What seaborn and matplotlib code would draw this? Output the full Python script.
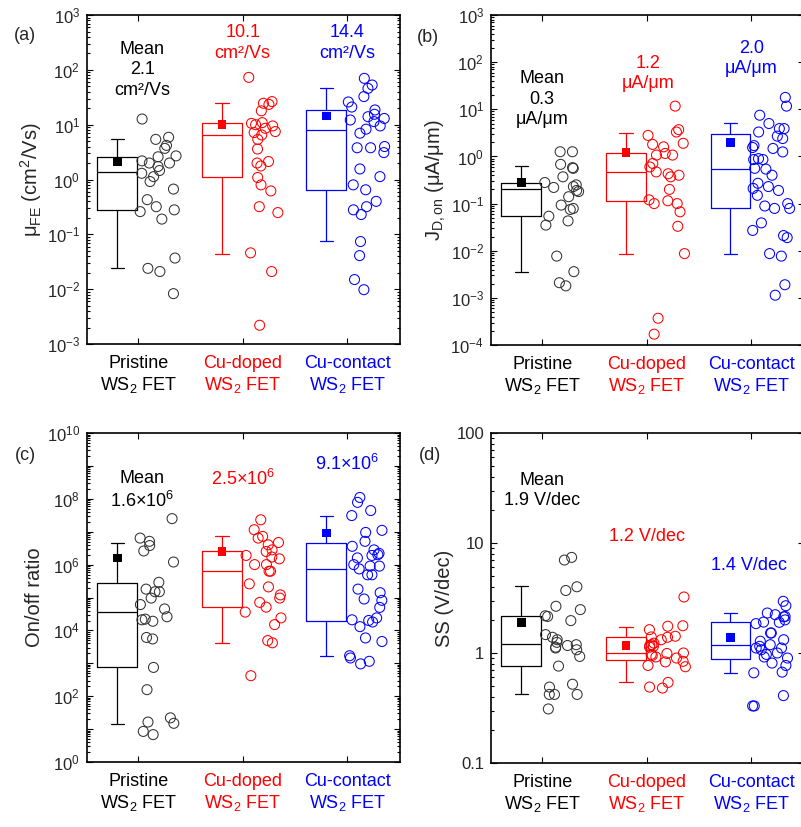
import numpy as np
import matplotlib
matplotlib.use('Agg')
import matplotlib.pyplot as plt
import matplotlib.ticker as mticker
import seaborn as sns

groups = ['Pristine', 'Cu-doped', 'Cu-contact']
colors = ['black', 'red', 'blue']
point_colors = ['#333333', 'red', 'blue']
tick_labels = ['Pristine\nWS$_\\mathregular{2}$ FET',
               'Cu-doped\nWS$_\\mathregular{2}$ FET',
               'Cu-contact\nWS$_\\mathregular{2}$ FET']

# (a) field-effect mobility, cm2/Vs
mu_pristine = [12.7, 5.9, 5.4, 4.2, 2.7, 1.46, 2.6, 2.19, 2.0, 1.73, 3.7, 2.0, 1.13, 1.3,
               0.92, 0.67, 0.43, 0.32, 0.28, 0.26, 0.19, 0.037, 0.024, 0.021, 0.0083]
mu_doped = [73, 24.6, 26.4, 23.5, 17.9, 10.6, 10.9, 5.4, 6.5, 3.6, 7.5, 9.5, 10, 8.6, 7.2,
            1.77, 2.0, 2.13, 1.09, 0.8, 0.62, 0.32, 0.25, 0.046, 0.021, 0.0022]
mu_contact = [70, 53, 46, 32.6, 26, 21, 18.6, 14, 15.5, 13, 11.4, 12.2, 7.0, 3.8, 3.8, 4.0,
              3.1, 9.5, 8.3, 1.13, 0.8, 1.56, 0.65, 0.4, 0.32, 0.28, 0.23, 0.074, 0.041,
              0.015, 0.0098]
# whisker low, q1, median, q3, whisker high
mu_box = [[0.0246, 0.28, 1.36, 2.62, 5.4],
          [0.044, 1.1, 6.6, 10.8, 24.6],
          [0.077, 0.65, 8.0, 18.6, 46]]
mu_mean = [2.1, 10.1, 14.4]
mu_text = ['Mean\n2.1\ncm²/Vs', '10.1\ncm²/Vs', '14.4\ncm²/Vs']

# (b) on-current density, uA/um
j_pristine = [1.26, 1.26, 0.56, 0.37, 0.68, 0.58, 0.19, 0.14, 0.23, 0.18, 0.28, 0.25, 0.22,
              0.093, 0.079, 0.075, 0.054, 0.043, 0.035, 0.0077, 0.0036, 0.0021, 0.0018]
j_doped = [11.7, 3.7, 3.3, 2.8, 1.6, 1.16, 0.6, 0.43, 0.37, 0.4, 1.9, 1.8, 1.07, 1.07, 0.71,
           0.47, 0.2, 0.1, 0.1, 0.067, 0.12, 0.115, 0.033, 0.0087, 0.00037, 0.00017]
j_contact = [17.9, 11.7, 7.5, 5.0, 3.9, 3.9, 3.3, 2.7, 2.4, 1.48, 0.9, 0.86, 0.86, 1.25, 1.7,
             1.55, 0.54, 0.56, 0.27, 0.21, 0.4, 0.19, 0.23, 0.15, 0.089, 0.079, 0.1, 0.079,
             0.039, 0.027, 0.021, 0.019, 0.0087, 0.0077, 0.0019, 0.00114]
j_box = [[0.0036, 0.054, 0.2, 0.276, 0.64],
         [0.0087, 0.115, 0.47, 1.2, 3.1],
         [0.0085, 0.079, 0.55, 3.0, 5.2]]
j_mean = [0.28, 1.2, 2.0]
j_text = ['Mean\n0.3\nμA/μm', '1.2\nμA/μm', '2.0\nμA/μm']

# (c) on/off ratio
onoff_pristine = [2.5e7, 6.4e6, 5.1e6, 3.8e6, 2.6e6, 1.2e6, 6.1e4, 4.5e4, 2.1e4, 1.9e4, 1.5e5,
                  1.8e5, 2.9e5, 1.5e5, 9.6e4, 2.6e4, 2.2e4, 6.1e3, 5.5e3, 750, 158, 15, 22,
                  8.5, 6.8, 16.4]
onoff_doped = [2.3e7, 1.15e7, 7.2e6, 4.7e6, 6.4e6, 4e6, 2.5e6, 2.8e6, 1.9e6, 1.7e6, 1.5e6,
               1e6, 1e6, 6.3e5, 6.3e5, 2.1e5, 2.6e5, 1.2e5, 9.6e4, 7.1e4, 5.1e4, 3.6e4, 2.4e4,
               1.5e4, 4.9e3, 4.2e3, 420]
onoff_contact = [1.1e8, 7.8e7, 4.4e7, 3.1e7, 1.1e7, 9.5e6, 5.1e6, 3.6e6, 2.8e6, 2.2e6, 1.9e6,
                 1.6e6, 2e6, 1e6, 9e5, 9e5, 7.4e5, 4.9e5, 4.9e5, 1.8e5, 1.4e5, 9e4, 8.2e4,
                 5e4, 2.1e4, 1.8e4, 1.3e4, 2.4e4, 2e4, 5.9e3, 4.6e3, 1.45e3, 1.15e3, 960,
                 1.7e3]
onoff_box = [[14.6, 754, 3.7e4, 2.8e5, 4.5e6],
             [4.2e3, 5.1e4, 6.3e5, 2.6e6, 7.2e6],
             [1.7e3, 2.0e4, 7.4e5, 4.5e6, 3.1e7]]
onoff_mean = [1.6e6, 2.5e6, 9.1e6]
onoff_text = ['Mean\n1.6×10$^\\mathregular{6}$', '2.5×10$^\\mathregular{6}$',
              '9.1×10$^\\mathregular{6}$']

# (d) subthreshold swing, V/dec
ss_pristine = [7.4, 7.0, 4.0, 3.7, 2.66, 2.48, 2.15, 2.18, 1.97, 1.32, 1.25, 1.19, 1.11, 1.07,
               1.17, 1.13, 1.47, 1.39, 0.93, 0.76, 0.42, 0.42, 0.42, 0.49, 0.52, 0.31]
ss_doped = [3.23, 1.75, 1.63, 1.77, 1.32, 1.42, 1.39, 1.40, 1.19, 1.15, 1.23, 1.17, 1.13, 1.0,
            0.97, 0.99, 0.95, 0.92, 0.90, 0.84, 0.83, 0.77, 0.75, 0.49, 0.48, 0.54]
ss_contact = [2.69, 2.95, 2.23, 2.31, 2.13, 2.0, 2.15, 1.9, 1.85, 1.91, 1.52, 1.52, 1.32, 1.07,
              1.0, 0.97, 1.11, 1.15, 1.19, 1.11, 1.28, 0.9, 0.92, 0.77, 0.81, 0.66, 0.67,
              0.33, 0.41, 0.33]
ss_box = [[0.42, 0.756, 1.21, 2.15, 4.04],
          [0.54, 0.86, 1.0, 1.39, 1.72],
          [0.66, 0.89, 1.18, 1.91, 2.31]]
ss_mean = [1.9, 1.17, 1.39]
ss_text = ['Mean\n1.9 V/dec', '1.2 V/dec', '1.4 V/dec']

sns.set_style('ticks')
plt.rcParams['font.family'] = ['Liberation Sans', 'DejaVu Sans']
plt.rcParams['mathtext.fontset'] = 'custom'
plt.rcParams['mathtext.rm'] = 'Liberation Sans'
plt.rcParams['mathtext.it'] = 'Liberation Sans:italic'
plt.rcParams['mathtext.bf'] = 'Liberation Sans:bold'

np.random.seed(7)

fig = plt.figure(figsize=(8.01, 8.27), dpi=100)


def draw_panel(rect, points, box, means, texts, text_xy, ylabel, ylim, letter, letter_xy,
               even_only=False, plain=False):
    ax = fig.add_axes(rect)
    ax.set_yscale('log')
    for i, pts in enumerate(points):
        sns.stripplot(x=np.full(len(pts), i + 0.19), y=pts, native_scale=True, orient='x',
                      jitter=0.18, size=7.2, color=point_colors[i], facecolor='none',
                      edgecolor=point_colors[i], linewidth=0.75, ax=ax)
        lo, q1, med, q3, hi = box[i]
        ax.bxp([dict(whislo=lo, q1=q1, med=med, q3=q3, whishi=hi)],
               positions=[i - 0.2], widths=0.38, capwidths=0.13, showfliers=False,
               manage_ticks=False,
               boxprops=dict(color=colors[i], lw=0.9),
               whiskerprops=dict(color=colors[i], lw=0.9),
               capprops=dict(color=colors[i], lw=0.9),
               medianprops=dict(color=colors[i], lw=0.9))
        ax.text(text_xy[i][0], text_xy[i][1], texts[i], color=colors[i], fontsize=13,
                ha='center', va='center', linespacing=1.25)
    sns.scatterplot(x=np.arange(3) - 0.2, y=means, hue=groups, palette=colors, marker='s',
                    s=38, edgecolor='none', legend=False, zorder=4, ax=ax)

    ax.set_xlim(-0.49, 2.505)
    ax.set_ylim(*ylim)
    ax.set_xticks([0, 1, 2])
    ax.set_xticklabels(tick_labels, fontsize=13)
    for lbl, c in zip(ax.get_xticklabels(), colors):
        lbl.set_color(c)
    ax.set_ylabel(ylabel, fontsize=14.5, labelpad=2)
    ax.yaxis.set_major_locator(mticker.LogLocator(base=10, numticks=30))
    ax.yaxis.set_minor_locator(mticker.LogLocator(base=10, subs=np.arange(2, 10), numticks=30))
    ax.yaxis.set_minor_formatter(mticker.NullFormatter())
    if plain:
        ax.yaxis.set_major_formatter(mticker.FuncFormatter(lambda v, p: f'{v:g}'))
    elif even_only:
        ax.yaxis.set_major_formatter(mticker.FuncFormatter(
            lambda v, p: f'$\\mathregular{{10^{{{int(round(np.log10(v)))}}}}}$'
            if int(round(np.log10(v))) % 2 == 0 else ''))
    ax.tick_params(axis='both', which='both', direction='in', top=True, right=True,
                   color='black', width=0.8)
    ax.tick_params(axis='y', which='major', length=4, labelsize=12, pad=5)
    ax.tick_params(axis='y', which='minor', length=2)
    ax.tick_params(axis='x', which='major', length=4, pad=8)
    for sp in ax.spines.values():
        sp.set_linewidth(1.2)
        sp.set_color('black')
    ax.set_xlabel('')
    fig.text(letter_xy[0], letter_xy[1], letter, fontsize=13, ha='center', va='center')
    return ax


draw_panel([0.1086, 0.5840, 0.3908, 0.3978], [mu_pristine, mu_doped, mu_contact], mu_box,
           mu_mean, mu_text, [(0.04, 100), (1.0, 310), (2.0, 310)],
           'μ$_\\mathregular{FE}$ (cm$^\\mathregular{2}$/Vs)', (1e-3, 1e3), '(a)',
           (25 / 801, 1 - 36 / 827))
draw_panel([0.6130, 0.5828, 0.3908, 0.3990], [j_pristine, j_doped, j_contact], j_box,
           j_mean, j_text, [(0.0, 16.4), (1.01, 58), (2.0, 118)],
           'J$_\\mathregular{D,on}$ (μA/μm)', (1e-4, 1e3), '(b)',
           (428 / 801, 1 - 37 / 827))
draw_panel([0.1086, 0.0786, 0.3908, 0.3978], [onoff_pristine, onoff_doped, onoff_contact],
           onoff_box, onoff_mean, onoff_text,
           [(0.04, 10 ** 8.26), (1.0, 10 ** 8.6), (2.0, 10 ** 9.07)],
           'On/off ratio', (1e0, 1e10), '(c)', (25 / 801, 1 - 455 / 827), even_only=True)
draw_panel([0.6130, 0.0774, 0.3908, 0.3990], [ss_pristine, ss_doped, ss_contact], ss_box,
           ss_mean, ss_text, [(0.0, 30), (1.0, 11.5), (1.98, 6.3)],
           'SS (V/dec)', (0.1, 100), '(d)', (430 / 801, 1 - 455 / 827), plain=True)

fig.savefig('out.png', dpi=100)
